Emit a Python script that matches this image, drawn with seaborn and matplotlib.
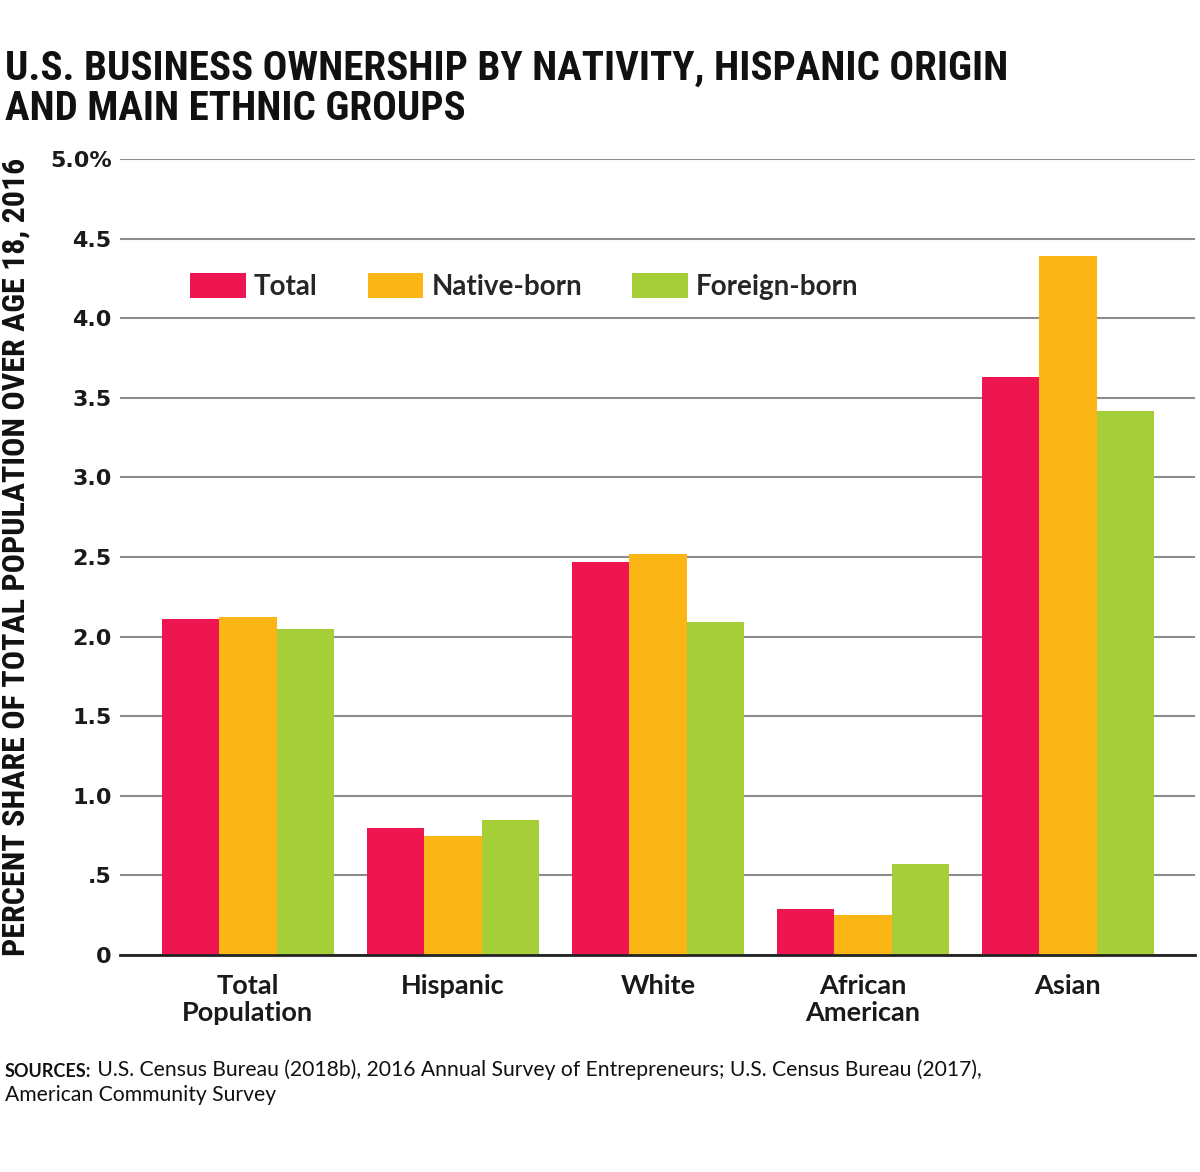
import matplotlib
matplotlib.use("Agg")
import matplotlib.pyplot as plt
import seaborn as sns
import pandas as pd
from matplotlib.patches import Patch

categories = ["Total\nPopulation", "Hispanic", "White", "African\nAmerican", "Asian"]
series_names = ["Total", "Native-born", "Foreign-born"]
total_vals = [2.11, 0.80, 2.47, 0.29, 3.63]
native_vals = [2.12, 0.75, 2.52, 0.25, 4.39]
foreign_vals = [2.05, 0.85, 2.09, 0.57, 3.42]
yticks = [0, 0.5, 1.0, 1.5, 2.0, 2.5, 3.0, 3.5, 4.0, 4.5, 5.0]
ytick_labels = ["0", ".5", "1.0", "1.5", "2.0", "2.5", "3.0", "3.5", "4.0", "4.5", "5.0%"]
colors = ["#ED1651", "#FBB615", "#A6CE39"]

rows = []
for name, vals in zip(series_names, [total_vals, native_vals, foreign_vals]):
    for c, v in zip(categories, vals):
        rows.append({"category": c, "series": name, "value": v})
df = pd.DataFrame(rows)

sns.set_theme(style="white")
plt.rcParams["font.family"] = ["Lato", "DejaVu Sans"]

W, H = 1200, 1172
fig = plt.figure(figsize=(W / 100, H / 100), dpi=100)
ax = fig.add_axes([120 / W, 1 - 955 / H, (1195 - 120) / W, (955 - 159) / H])

sns.barplot(data=df, x="category", y="value", hue="series", order=categories,
            hue_order=series_names, palette=colors, width=0.84, saturation=1,
            ax=ax, legend=False, linewidth=0)

ax.set_xlim(-0.624, 4.62)
ax.set_ylim(0, 5.0)
ax.set_yticks(yticks)
ax.set_yticklabels(ytick_labels, fontsize=16, fontweight="bold", color="#1a1a1a",
                   family=["DejaVu Sans"])
ax.tick_params(axis="y", length=0, pad=6)
ax.tick_params(axis="x", length=0, pad=14)
for lbl in ax.get_xticklabels():
    lbl.set_fontsize(19.5)
    lbl.set_fontweight("bold")
    lbl.set_color("#1a1a1a")
    lbl.set_linespacing(1.15)
ax.set_xlabel("")
ax.set_ylabel("")
for s in ["top", "right", "left"]:
    ax.spines[s].set_visible(False)
ax.spines["bottom"].set_color("#222222")
ax.spines["bottom"].set_linewidth(2)
ax.yaxis.grid(True, color="#8c8c8c", linewidth=1.5)
ax.set_axisbelow(True)

handles = [Patch(facecolor=c, edgecolor="none", label=n) for c, n in zip(colors, series_names)]
leg = ax.legend(handles=handles, loc="center left", bbox_to_anchor=(0.042, 0.84),
                ncol=3, frameon=False, prop={"size": 20, "weight": "bold"},
                handlelength=2.0, handleheight=1.0, handletextpad=0.3,
                columnspacing=1.8)

cond = ["Roboto Condensed", "Roboto", "DejaVu Sans"]
fig.text(5 / W, 1 - 50 / H,
         "U.S. BUSINESS OWNERSHIP BY NATIVITY, HISPANIC ORIGIN\nAND MAIN ETHNIC GROUPS",
         fontsize=29.5, fontweight="bold", family=cond, va="top", ha="left",
         color="#111111", linespacing=1.07)

fig.text(16 / W, 1 - 557 / H, "PERCENT SHARE OF TOTAL POPULATION OVER AGE 18, 2016",
         rotation=90, fontsize=23, fontweight="bold", family=cond,
         va="center", ha="center", color="#111111")

t1 = fig.text(5 / W, 1 - 1077 / H, "SOURCES:", fontsize=13, fontweight="bold",
              family=["Lato", "DejaVu Sans"], va="baseline", ha="left", color="#111111")
ax.annotate(" U.S. Census Bureau (2018b), 2016 Annual Survey of Entrepreneurs; U.S. Census Bureau (2017),",
            xy=(1, 0), xycoords=t1, va="bottom", ha="left", fontsize=15.2,
            family=["Lato", "DejaVu Sans"], color="#111111", annotation_clip=False)
fig.text(5 / W, 1 - 1101 / H, "American Community Survey", fontsize=15.2,
         family=["Lato", "DejaVu Sans"], va="baseline", ha="left", color="#111111")

fig.savefig("out.png", dpi=100)
